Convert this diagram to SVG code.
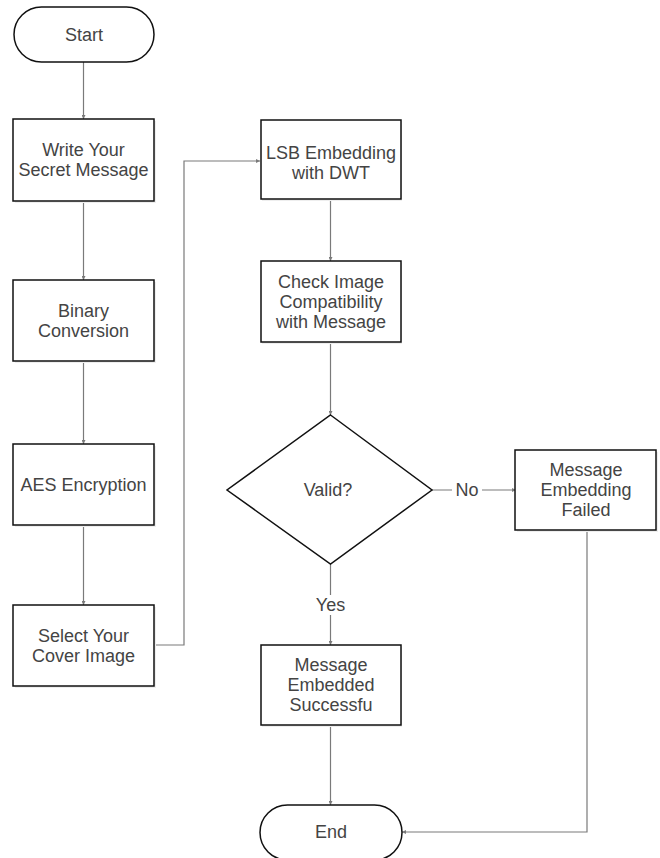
<svg xmlns="http://www.w3.org/2000/svg" width="660" height="858" viewBox="0 0 660 858">
<style>
.box{fill:#fff;stroke:#111;stroke-width:1.5}
.sh{fill:#eeeeee}
.t{font-family:"Liberation Sans",Arial,sans-serif;font-size:18px;fill:#444;text-anchor:middle;dominant-baseline:central}
.c{fill:none;stroke:#7a7a7a;stroke-width:1.2}
.lbl{fill:#fff}
</style>
<defs>
<marker id="ah" viewBox="0 0 6 6" refX="6" refY="3" markerWidth="4" markerHeight="4" orient="auto" markerUnits="userSpaceOnUse">
<path d="M0,0 L6,3 L0,6 z" fill="#7a7a7a"/>
</marker>
</defs>
<rect width="660" height="858" fill="#fff"/>
<g id="connectors">
<path class="c" d="M83.5,62 V119" marker-end="url(#ah)"/>
<path class="c" d="M83.5,201 V280" marker-end="url(#ah)"/>
<path class="c" d="M83.5,361 V444" marker-end="url(#ah)"/>
<path class="c" d="M83.5,525 V605" marker-end="url(#ah)"/>
<path class="c" d="M154,645 H184 V161 H260" marker-end="url(#ah)"/>
<path class="c" d="M330.5,200 V261" marker-end="url(#ah)"/>
<path class="c" d="M330.5,342 V415" marker-end="url(#ah)"/>
<path class="c" d="M432,490 H516" marker-end="url(#ah)"/>
<path class="c" d="M330.5,564 V645" marker-end="url(#ah)"/>
<path class="c" d="M330.5,725 V805" marker-end="url(#ah)"/>
<path class="c" d="M587,530 V832 H402" marker-end="url(#ah)"/>
<rect class="lbl" x="452" y="480" width="30" height="20"/>
<text class="t" x="467" y="490">No</text>
<rect class="lbl" x="312" y="595" width="37" height="20"/>
<text class="t" x="330.5" y="605">Yes</text>
</g>
<g id="start">
<rect class="box" x="14" y="7" width="140" height="55" rx="27.5"/>
<text class="t" x="84" y="34.5">Start</text>
</g>
<g id="write">
<rect class="sh" x="15" y="121" width="141" height="82"/>
<rect class="box" x="13" y="119" width="141" height="82"/>
<text class="t" x="83.5" y="150">Write Your</text>
<text class="t" x="83.5" y="170">Secret Message</text>
</g>
<g id="binary">
<rect class="sh" x="15" y="282" width="141" height="81"/>
<rect class="box" x="13" y="280" width="141" height="81"/>
<text class="t" x="83.5" y="310.5">Binary</text>
<text class="t" x="83.5" y="330.5">Conversion</text>
</g>
<g id="aes">
<rect class="sh" x="15" y="446" width="141" height="81"/>
<rect class="box" x="13" y="444" width="141" height="81"/>
<text class="t" x="83.5" y="484.5">AES Encryption</text>
</g>
<g id="select">
<rect class="sh" x="15" y="607" width="141" height="81"/>
<rect class="box" x="13" y="605" width="141" height="81"/>
<text class="t" x="83.5" y="635.5">Select Your</text>
<text class="t" x="83.5" y="655.5">Cover Image</text>
</g>
<g id="lsb">
<rect class="sh" x="262" y="121" width="140" height="80"/>
<rect class="box" x="261" y="120" width="140" height="79"/>
<text class="t" x="331" y="153">LSB Embedding</text>
<text class="t" x="331" y="173">with DWT</text>
</g>
<g id="check">
<rect class="sh" x="262" y="263" width="140" height="81"/>
<rect class="box" x="261" y="261" width="140" height="81"/>
<text class="t" x="331" y="281.5">Check Image</text>
<text class="t" x="331" y="301.5">Compatibility</text>
<text class="t" x="331" y="321.5">with Message</text>
</g>
<g id="valid">
<polygon class="box" points="330.5,415 432,490 330.5,564 227,490"/>
<text class="t" x="328" y="490">Valid?</text>
</g>
<g id="failed">
<rect class="sh" x="517" y="452" width="141" height="80"/>
<rect class="box" x="515" y="450" width="141" height="80"/>
<text class="t" x="586" y="470">Message</text>
<text class="t" x="586" y="490">Embedding</text>
<text class="t" x="586" y="510">Failed</text>
</g>
<g id="embedded">
<rect class="sh" x="262" y="647" width="140" height="80"/>
<rect class="box" x="261" y="645" width="140" height="80"/>
<text class="t" x="331" y="665">Message</text>
<text class="t" x="331" y="685">Embedded</text>
<text class="t" x="331" y="705">Successfu</text>
</g>
<g id="end">
<rect class="box" x="260" y="805" width="142" height="55" rx="27.5"/>
<text class="t" x="331" y="832">End</text>
</g>
</svg>
